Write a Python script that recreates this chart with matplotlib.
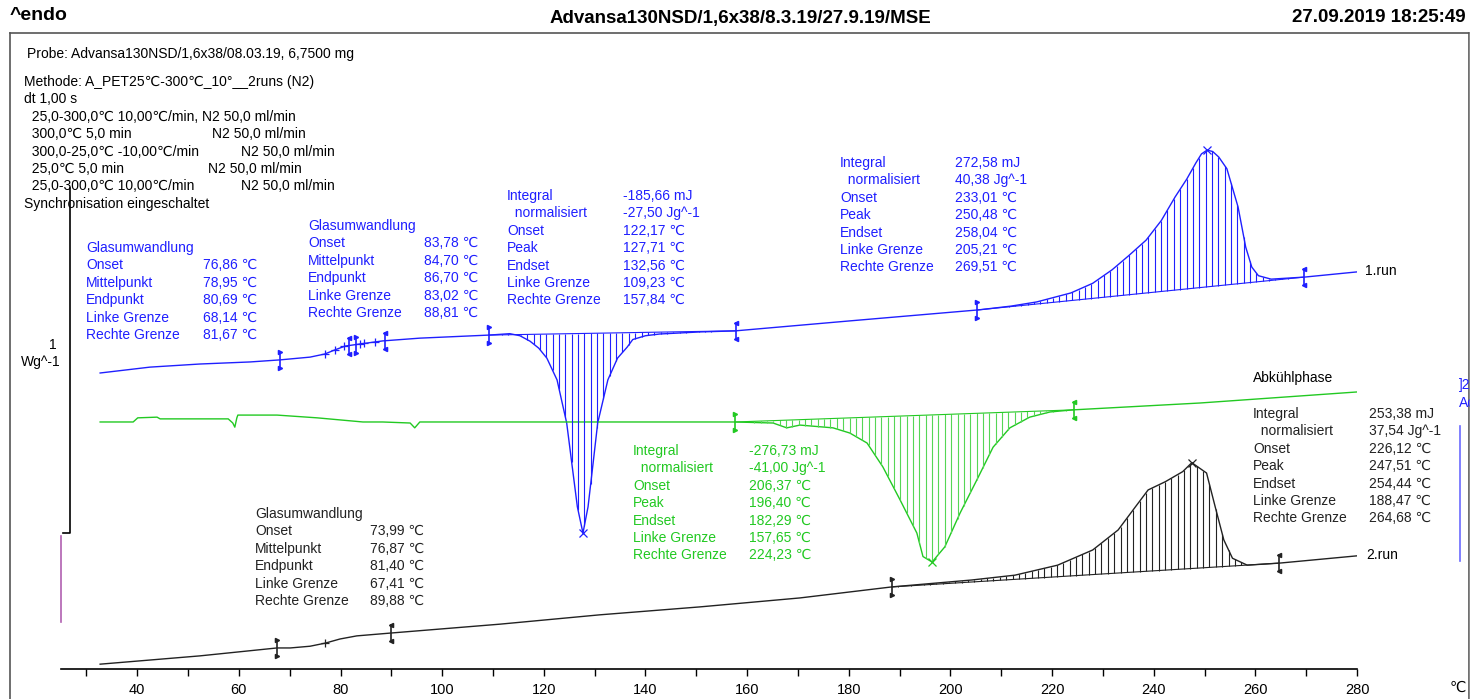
import numpy as np
import matplotlib.pyplot as plt
from matplotlib.lines import Line2D

plt.rcParams['font.family'] = ['Liberation Sans', 'DejaVu Sans']

W, H = 1474, 699
WG = 345.0  # px height of the 1 W/g scale bar

# ---- curves (temperature in C, heat flow in W/g incl. display offset) ----
run1_T = [32.7, 42.5, 52.3, 62.2, 68.1, 74.0, 76.9, 78.9, 80.9, 83.8, 88.3, 95.6,
          109.4, 113.3, 115.3, 117.3, 119.0, 120.6, 122.6, 124.5, 125.5, 126.6, 127.7,
          128.7, 129.7, 130.6, 132.6, 134.5, 136.4, 137.5, 140.0, 142.8, 150.7, 157.6,
          180.2, 205.6, 212.0, 217.0, 223.7, 228.0, 231.8, 235.0, 238.5, 241.5, 244.2,
          246.5, 248.3, 249.4, 250.5, 251.6, 252.8, 254.4, 256.6, 258.1, 259.3, 260.6,
          263.1, 269.7, 280.0]
run1_hf = [0.858, 0.875, 0.884, 0.890, 0.896, 0.904, 0.913, 0.925, 0.936, 0.942, 0.951, 0.959,
           0.968, 0.972, 0.966, 0.950, 0.930, 0.901, 0.838, 0.713, 0.597, 0.470, 0.394,
           0.470, 0.597, 0.713, 0.838, 0.901, 0.933, 0.955, 0.966, 0.971, 0.977, 0.980,
           1.009, 1.041, 1.052, 1.064, 1.090, 1.118, 1.157, 1.197, 1.243, 1.300, 1.368,
           1.420, 1.467, 1.493, 1.504, 1.500, 1.484, 1.450, 1.339, 1.223, 1.165, 1.140,
           1.130, 1.136, 1.151]

cool_T = [32.7, 39.2, 40.1, 43.9, 44.5, 57.9, 58.8, 59.2, 59.6, 59.8, 67.5, 75.4, 84.4,
          88.3, 93.7, 94.6, 95.6, 127.1, 157.6, 165.1, 167.8, 170.4, 176.9, 180.2, 183.6,
          186.7, 190.1, 193.4, 194.6, 196.4, 197.3, 198.9, 201.9, 205.2, 208.4, 211.7,
          215.6, 219.6, 224.0, 249.1, 280.0]
cool_hf = [0.716, 0.716, 0.728, 0.730, 0.725, 0.725, 0.713, 0.701, 0.728, 0.736, 0.736, 0.728, 0.716,
           0.716, 0.713, 0.699, 0.716, 0.716, 0.716, 0.713, 0.699, 0.707, 0.699, 0.684, 0.655,
           0.586, 0.490, 0.394, 0.326, 0.310, 0.326, 0.354, 0.452, 0.548, 0.643, 0.699,
           0.730, 0.745, 0.751, 0.771, 0.803]

run2_T = [32.7, 52.3, 67.5, 70.1, 74.0, 77.0, 79.9, 83.2, 89.7, 111.4, 131.0, 150.7, 170.4,
          188.5, 204.2, 212.7, 221.1, 228.0, 233.0, 236.4, 238.9, 242.3, 245.7, 247.5,
          250.4, 252.1, 253.8, 255.5, 258.4, 264.8, 280.0]
run2_hf = [0.014, 0.038, 0.061, 0.061, 0.066, 0.075, 0.087, 0.096, 0.104, 0.130, 0.157, 0.180, 0.206,
           0.238, 0.258, 0.272, 0.301, 0.345, 0.403, 0.470, 0.519, 0.543, 0.572, 0.598,
           0.568, 0.470, 0.374, 0.321, 0.301, 0.307, 0.328]

# ---- evaluation results ----
run1_cryst = (109.23, 127.71, 157.84)
run1_melt = (205.21, 250.48, 269.51)
cool_cryst = (157.65, 196.40, 224.23)
run2_melt = (188.47, 247.51, 264.68)
run1_tg1 = [68.14, 76.86, 78.95, 80.69, 81.67]
run1_tg2 = [83.02, 83.78, 84.70, 86.70, 88.81]
run2_tg = [67.41, 73.99, 76.87, 81.40, 89.88]

tg_labels = ["Glasumwandlung", "Onset", "Mittelpunkt", "Endpunkt", "Linke Grenze", "Rechte Grenze"]
peak_labels = ["Integral", "  normalisiert", "Onset", "Peak", "Endset", "Linke Grenze", "Rechte Grenze"]
tg1_values = ["", "76,86 ℃", "78,95 ℃", "80,69 ℃", "68,14 ℃", "81,67 ℃"]
tg2_values = ["", "83,78 ℃", "84,70 ℃", "86,70 ℃", "83,02 ℃", "88,81 ℃"]
tg3_values = ["", "73,99 ℃", "76,87 ℃", "81,40 ℃", "67,41 ℃", "89,88 ℃"]
cryst_values = ["-185,66 mJ", "-27,50 Jg^-1", "122,17 ℃", "127,71 ℃", "132,56 ℃", "109,23 ℃", "157,84 ℃"]
melt1_values = ["272,58 mJ", "40,38 Jg^-1", "233,01 ℃", "250,48 ℃", "258,04 ℃", "205,21 ℃", "269,51 ℃"]
cool_values = ["-276,73 mJ", "-41,00 Jg^-1", "206,37 ℃", "196,40 ℃", "182,29 ℃", "157,65 ℃", "224,23 ℃"]
melt2_values = ["253,38 mJ", "37,54 Jg^-1", "226,12 ℃", "247,51 ℃", "254,44 ℃", "188,47 ℃", "264,68 ℃"]

method_lines = ["Methode: A_PET25℃-300℃_10°__2runs (N2)", "dt 1,00 s",
                "  25,0-300,0℃ 10,00℃/min, N2 50,0 ml/min", "  300,0℃ 5,0 min",
                "  300,0-25,0℃ -10,00℃/min", "  25,0℃ 5,0 min", "  25,0-300,0℃ 10,00℃/min",
                "Synchronisation eingeschaltet"]
method_gas = ["", "", "", "N2 50,0 ml/min", "N2 50,0 ml/min", "N2 50,0 ml/min", "N2 50,0 ml/min", ""]

BLUE = '#1f1fff'
GREEN = '#22c922'
GREEN_H = '#55d655'
BLACK = '#222222'

fig = plt.figure(figsize=(W / 100, H / 100), dpi=100)
ax = fig.add_axes([61 / W, 30 / H, (1357 - 61) / W, 669 / H])
ax.set_xlim(25, 280)
ax.set_ylim(0, 669 / WG)
ax.patch.set_visible(False)
for s in ['left', 'right', 'top']:
    ax.spines[s].set_visible(False)
ax.spines['bottom'].set_linewidth(1.2)
ax.set_yticks([])
ax.set_xticks(range(40, 281, 20))
ax.set_xticks(range(30, 281, 10), minor=True)
ax.tick_params(axis='x', which='both', direction='out', length=5, width=1, labelsize=10.5, pad=5)


def fx(px):
    return px / W


def fy(py):
    return 1 - py / H


def fline(xs, ys, **kw):
    fig.add_artist(Line2D([fx(x) for x in xs], [fy(y) for y in ys], **kw))


def block(xl, xv, y0, labels, values, color, dy=17.4):
    for i, (l, v) in enumerate(zip(labels, values)):
        fig.text(fx(xl), fy(y0 + i * dy), l, color=color, fontsize=10, va='center')
        if v:
            fig.text(fx(xv), fy(y0 + i * dy), v, color=color, fontsize=10, va='center')


def limit_mark(T, hf, left, color):
    y = np.interp(T, hf[0], hf[1])
    d = 8 / WG
    ax.plot([T, T], [y - d, y + d], color=color, lw=1.2)
    m = '>' if left else '<'
    ax.plot([T], [y + d], marker=m, ms=3, color=color)
    ax.plot([T], [y - d], marker=m, ms=3, color=color)


def peak_area(curve, lims, color, hcolor):
    T, hf = curve
    lo, pk, hi = lims
    ylo, yhi = np.interp(lo, T, hf), np.interp(hi, T, hf)
    ts = np.arange(lo, hi, 1.25)
    base = ylo + (yhi - ylo) * (ts - lo) / (hi - lo)
    ax.vlines(ts, base, np.interp(ts, T, hf), color=hcolor, lw=0.8)
    ax.plot([lo, hi], [ylo, yhi], color=color, lw=0.8)
    ax.plot([pk], [np.interp(pk, T, hf)], marker='x', ms=6, mew=0.9, color=color)
    limit_mark(lo, curve, True, color)
    limit_mark(hi, curve, False, color)


def tg_marks(curve, vals, color):
    limit_mark(vals[0], curve, True, color)
    limit_mark(vals[-1], curve, False, color)
    for t in vals[1:-1]:
        ax.plot([t], [np.interp(t, curve[0], curve[1])], marker='+', ms=6, color=color, mew=0.9)


run1 = (run1_T, run1_hf)
cool = (cool_T, cool_hf)
run2 = (run2_T, run2_hf)

ax.plot(run1_T, run1_hf, color=BLUE, lw=1.0)
ax.plot(cool_T, cool_hf, color=GREEN, lw=1.0)
ax.plot(run2_T, run2_hf, color=BLACK, lw=1.0)

peak_area(run1, run1_cryst, BLUE, BLUE)
peak_area(run1, run1_melt, BLUE, BLUE)
peak_area(cool, cool_cryst, GREEN, GREEN_H)
peak_area(run2, run2_melt, BLACK, BLACK)
tg_marks(run1, run1_tg1, BLUE)
tg_marks(run1, run1_tg2, BLUE)
tg_marks(run2, [run2_tg[0], run2_tg[2], run2_tg[4]], BLACK)

# ---- header and frame ----
fig.text(fx(10), fy(16), "^endo", fontsize=14, fontweight='bold', va='center')
fig.text(fx(740), fy(18), "Advansa130NSD/1,6x38/8.3.19/27.9.19/MSE", fontsize=13.5,
         fontweight='bold', va='center', ha='center')
fig.text(fx(1466), fy(18), "27.09.2019 18:25:49", fontsize=13.5, fontweight='bold',
         va='center', ha='right')
fline([10, 1469], [33, 33], color='#555555', lw=1.2)
fline([10, 10], [33, 699], color='#555555', lw=1.2)
fline([1469, 1469], [33, 699], color='#555555', lw=1.2)

# scale bar and side marks
fline([70, 70, 63], [188, 533, 533], color='black', lw=1.2)
fline([61, 61], [536, 622], color='#b060b0', lw=1.2)
fline([1460, 1460], [426, 561], color='#6a6aff', lw=1.2)
fig.text(fx(57), fy(345), "1", fontsize=10, ha='right', va='center')
fig.text(fx(61), fy(362), "Wg^-1", fontsize=10, ha='right', va='center')
fig.text(fx(1459), fy(385), "]2", fontsize=10, color=BLUE, va='center')
fig.text(fx(1459), fy(403), "Ac", fontsize=10, color=BLUE, va='center')
fig.add_artist(plt.Rectangle((fx(1469.6), 0), 1, 1, transform=fig.transFigure,
                             color='white', zorder=5))
fig.text(fx(1450), fy(688), "℃", fontsize=10.5, va='center')

# ---- text blocks ----
fig.text(fx(27), fy(54), "Probe: Advansa130NSD/1,6x38/08.03.19, 6,7500 mg", fontsize=10, va='center')
gas_x = [0, 0, 0, 212, 241, 208, 241, 0]
for i, (l, g) in enumerate(zip(method_lines, method_gas)):
    fig.text(fx(24), fy(82 + i * 17.4), l, fontsize=10, va='center')
    if g:
        fig.text(fx(gas_x[i]), fy(82 + i * 17.4), g, fontsize=10, va='center')

block(86, 203, 248, tg_labels, tg1_values, BLUE)
block(308, 424, 226, tg_labels, tg2_values, BLUE)
block(507, 623, 196, peak_labels, cryst_values, BLUE)
block(840, 955, 163, peak_labels, melt1_values, BLUE)
block(633, 749, 451, peak_labels, cool_values, GREEN)
block(1253, 1369, 414, peak_labels, melt2_values, BLACK)
block(255, 370, 514, tg_labels, tg3_values, BLACK)
fig.text(fx(1253), fy(378), "Abkühlphase", fontsize=10, va='center')
fig.text(fx(1365), fy(271), "1.run", fontsize=10, va='center')
fig.text(fx(1366), fy(555), "2.run", fontsize=10, va='center')

fig.savefig("out.png", dpi=100)
